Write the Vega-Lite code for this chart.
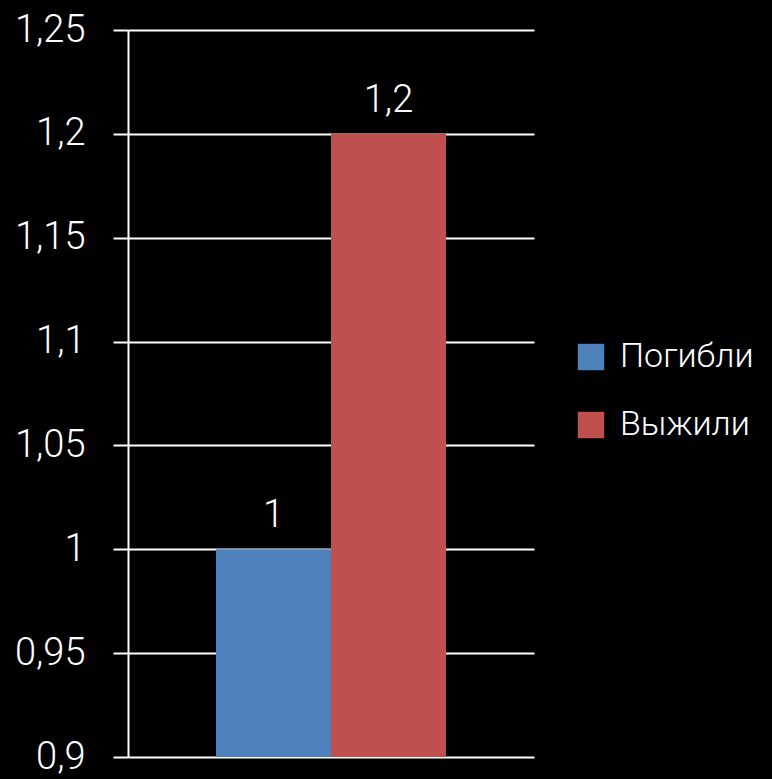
{
  "$schema": "https://vega.github.io/schema/vega-lite/v6.json",
  "autosize": "none",
  "width": 406,
  "height": 727,
  "padding": {"left": 128, "top": 30, "right": 238, "bottom": 22},
  "background": "#000000",
  "config": {
    "view": {"stroke": null},
    "font": "Roboto",
    "locale": {"number": {"decimal": ",", "thousands": " ", "grouping": [3], "currency": ["", ""]}}
  },
  "data": {
    "values": [
      {"series": "Погибли", "value": 1.0},
      {"series": "Выжили", "value": 1.2}
    ]
  },
  "encoding": {
    "x": {
      "field": "series",
      "type": "nominal",
      "sort": ["Погибли", "Выжили"],
      "scale": {"paddingInner": 0, "paddingOuter": 0.765},
      "axis": null
    },
    "y": {
      "field": "value",
      "type": "quantitative",
      "scale": {"domain": [0.9, 1.25], "zero": false, "nice": false},
      "axis": {
        "values": [0.9, 0.95, 1, 1.05, 1.1, 1.15, 1.2, 1.25],
        "format": "~g",
        "title": null,
        "domainColor": "#ffffff",
        "domainWidth": 2,
        "tickColor": "#ffffff",
        "tickWidth": 2,
        "tickSize": 15,
        "gridColor": "#ffffff",
        "gridWidth": 2,
        "gridOpacity": 1,
        "labelColor": "#ffffff",
        "labelFont": "Roboto",
        "labelFontSize": 38,
        "labelFontWeight": 300,
        "labelPadding": 28
      }
    }
  },
  "layer": [
    {
      "mark": {"type": "bar", "clip": true},
      "encoding": {
        "color": {
          "field": "series",
          "type": "nominal",
          "sort": ["Погибли", "Выжили"],
          "scale": {"domain": ["Погибли", "Выжили"], "range": ["#4F81BD", "#C0504D"]},
          "legend": {
            "title": null,
            "orient": "none",
            "legendX": 446,
            "legendY": 310,
            "symbolType": "square",
            "symbolSize": 700,
            "symbolStrokeWidth": 0,
            "labelColor": "#ffffff",
            "labelFont": "Roboto",
            "labelFontSize": 34,
            "labelFontWeight": 300,
            "labelOffset": 12,
            "labelLimit": 200,
            "rowPadding": 34,
            "padding": 0
          }
        }
      }
    },
    {
      "mark": {"type": "text", "baseline": "alphabetic", "dy": -22, "color": "#ffffff", "fontSize": 38, "fontWeight": 300, "font": "Roboto"},
      "encoding": {
        "text": {"field": "value", "type": "quantitative", "format": "~g"}
      }
    }
  ]
}
